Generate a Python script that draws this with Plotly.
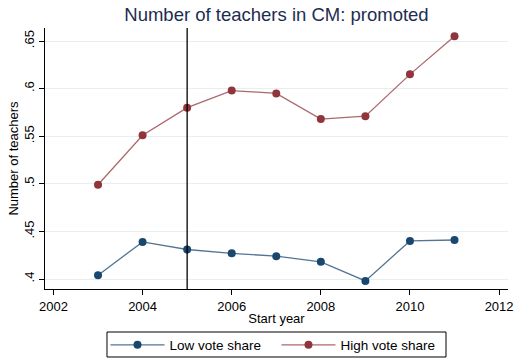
import plotly.graph_objects as go

years = [2003, 2004, 2005, 2006, 2007, 2008, 2009, 2010, 2011]
low_vote = [0.404, 0.439, 0.431, 0.427, 0.424, 0.418, 0.398, 0.440, 0.441]
high_vote = [0.499, 0.551, 0.580, 0.598, 0.595, 0.568, 0.571, 0.615, 0.655]
x_ticks = [2002, 2004, 2006, 2008, 2010, 2012]
y_ticks = [0.4, 0.45, 0.5, 0.55, 0.6, 0.65]
y_tick_labels = [".4", ".45", ".5", ".55", ".6", ".65"]

navy = "#1a476f"
maroon = "#90353b"

fig = go.Figure()
fig.add_trace(go.Scatter(x=years, y=low_vote, mode="lines+markers", name="Low vote share",
                         line=dict(color="rgba(26,71,111,0.75)", width=1.3),
                         marker=dict(color=navy, size=8)))
fig.add_trace(go.Scatter(x=years, y=high_vote, mode="lines+markers", name="High vote share",
                         line=dict(color="rgba(144,53,59,0.75)", width=1.3),
                         marker=dict(color=maroon, size=8)))

fig.add_shape(type="line", xref="x", yref="paper", x0=2005, x1=2005, y0=0, y1=1,
              line=dict(color="black", width=1.3))
# legend frame
fig.add_shape(type="rect", xref="paper", yref="paper", x0=0.1339, x1=0.8661, y0=-0.2605, y1=-0.1648,
              line=dict(color="black", width=1), fillcolor="rgba(0,0,0,0)")

fig.update_layout(
    width=516, height=358,
    margin=dict(l=45, r=8, t=28, b=69, autoexpand=False),
    paper_bgcolor="white", plot_bgcolor="white",
    font=dict(family="Liberation Sans, Arial, sans-serif", size=13, color="black"),
    title=dict(text="Number of teachers in CM: promoted", xref="paper", x=0.5, xanchor="center",
               y=0.978, yanchor="top",
               font=dict(size=18.5, color="#1e2d50")),
    showlegend=True,
    legend=dict(orientation="h", xref="paper", x=0.5, xanchor="center", yref="container", y=0.0363,
                yanchor="middle", bgcolor="rgba(0,0,0,0)", borderwidth=0, font=dict(size=13.5),
                itemwidth=54, entrywidth=102, tracegroupgap=0),
    xaxis=dict(range=[2001.81, 2012.2], tickvals=x_ticks, showgrid=False, zeroline=False,
               showline=True, linecolor="black", linewidth=1, ticks="outside", ticklen=5,
               tickcolor="black", title=dict(text="Start year", standoff=1, font=dict(size=13))),
    yaxis=dict(range=[0.3895, 0.6637], tickvals=y_ticks, ticktext=y_tick_labels, tickangle=-90,
               showgrid=True, gridcolor="#e6eff0", gridwidth=1, zeroline=False,
               showline=True, linecolor="black", linewidth=1, ticks="outside", ticklen=5,
               tickcolor="black", title=dict(text="Number of teachers", standoff=0, font=dict(size=13))),
)

fig.write_html("out.html")
